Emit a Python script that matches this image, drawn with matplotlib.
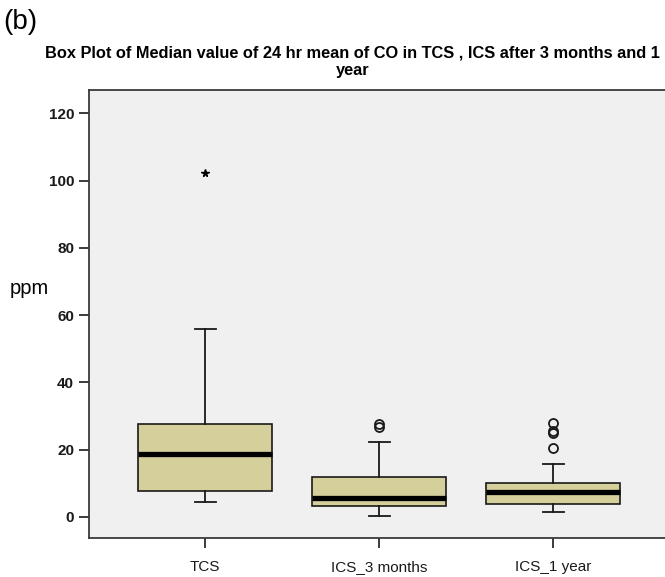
import matplotlib
matplotlib.use("Agg")
from matplotlib import pyplot as plt

plt.rcParams['font.family'] = ['Liberation Sans', 'DejaVu Sans']

# values (ppm)
groups = ["TCS", "ICS_3 months", "ICS_1 year"]
q1 = [7.7, 3.3, 3.8]
medians = [18.7, 5.5, 7.3]
q3 = [27.5, 11.7, 10.0]
whisker_low = [4.4, 0.3, 1.4]
whisker_high = [55.9, 22.2, 15.6]
outliers = [[], [27.7, 26.7], [28.0, 25.0, 25.4, 20.4]]
extremes = [[102.4], [], []]

stats = []
for i, name in enumerate(groups):
    stats.append({
        "label": name,
        "q1": q1[i], "med": medians[i], "q3": q3[i],
        "whislo": whisker_low[i], "whishi": whisker_high[i],
        "fliers": outliers[i],
    })

fig = plt.figure(figsize=(6.65, 5.77), dpi=100)
ax = fig.add_axes([0.1343, 0.0676, 0.872, 0.7756])
ax.set_facecolor("#f0f0f0")

positions = [1, 2, 3]
ax.bxp(stats, positions=positions, widths=0.77, patch_artist=True,
       capwidths=0.12,
       boxprops=dict(facecolor="#d4cf9b", edgecolor="#1a1a1a", linewidth=1.2),
       medianprops=dict(color="black", linewidth=3.8, solid_capstyle="butt"),
       whiskerprops=dict(color="#1a1a1a", linewidth=1.3),
       capprops=dict(color="#1a1a1a", linewidth=1.3),
       flierprops=dict(marker="o", markerfacecolor="none", markeredgecolor="#1a1a1a",
                       markersize=6.5, markeredgewidth=1.3))

# extreme values drawn as stars
for pos, vals in zip(positions, extremes):
    if vals:
        ax.plot([pos] * len(vals), vals, linestyle="none", marker="*",
                color="black", markersize=5.5)

ax.set_xlim(0.335, 3.665)
ax.set_ylim(-6.3, 126.8)
ax.set_yticks([0, 20, 40, 60, 80, 100, 120])
ax.set_xticks(positions)
ax.set_xticklabels(groups)
ax.tick_params(axis="both", direction="out", length=7, width=1.2,
               colors="#1a1a1a", labelsize=11)
ax.tick_params(axis="x", pad=9)
ax.tick_params(axis="y", pad=4)
for lbl in ax.get_yticklabels():
    lbl.set_fontweight("bold")

for side in ["left", "bottom", "top"]:
    ax.spines[side].set_color("#3a3a3a")
    ax.spines[side].set_linewidth(1.3)
ax.spines["right"].set_visible(False)

fig.text(0.014, 0.500, "ppm", fontsize=14.5, ha="left", va="center")
fig.text(0.005, 0.985, "(b)", fontsize=20, ha="left", va="top")
fig.text(0.53, 0.893, "Box Plot of Median value of 24 hr mean of CO in TCS , ICS after 3 months and 1\nyear",
         fontsize=11.8, fontweight="bold", ha="center", va="center", linespacing=1.25)

fig.savefig("out.png", dpi=100)
